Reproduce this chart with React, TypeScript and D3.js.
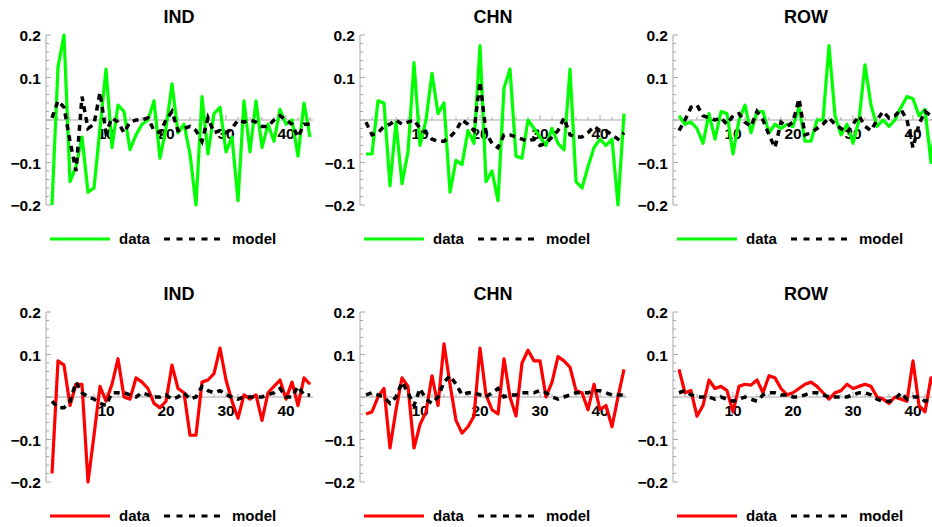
import React from 'react';
import * as d3 from 'd3';

const countries = ['IND', 'CHN', 'ROW'];

// top row (green data)
const topDataIND = [-0.2, 0.125, 0.2, -0.145, -0.11, -0.04, -0.17, -0.16, -0.02, 0.12, -0.065, 0.035, 0.02, -0.07, -0.035, -0.01, 0.0, 0.045, -0.09, -0.02, 0.085, -0.03, -0.01, -0.08, -0.2, 0.055, -0.08, 0.015, 0.03, -0.075, -0.04, -0.19, 0.045, -0.075, 0.045, -0.065, -0.01, -0.05, 0.025, -0.01, 0.0, -0.085, 0.04, -0.04];
const topModelIND = [0.005, 0.045, 0.03, -0.05, -0.12, 0.055, -0.02, -0.01, 0.065, -0.03, 0.005, -0.005, -0.03, -0.005, 0.0, 0.0, 0.005, -0.025, -0.03, 0.0, 0.02, -0.025, -0.02, -0.015, -0.025, -0.05, 0.005, -0.03, -0.025, -0.03, -0.02, 0.0, -0.005, 0.0, -0.005, -0.015, -0.015, 0.0, 0.01, 0.0, -0.01, -0.04, -0.01, -0.01];
const topDataCHN = [-0.08, -0.08, 0.045, 0.04, -0.155, -0.005, -0.15, -0.075, 0.135, -0.06, 0.0, 0.11, 0.015, 0.04, -0.17, -0.095, -0.105, -0.025, -0.055, 0.175, -0.145, -0.12, -0.19, 0.075, 0.12, -0.085, -0.09, 0.0, -0.02, -0.04, -0.06, -0.02, -0.055, -0.07, 0.12, -0.145, -0.16, -0.11, -0.065, -0.045, -0.06, -0.045, -0.2, 0.015];
const topModelCHN = [-0.005, -0.035, -0.03, -0.015, -0.01, 0.0, -0.01, -0.005, 0.0, -0.02, -0.03, -0.045, -0.05, -0.05, -0.04, -0.025, 0.0, -0.01, -0.025, 0.09, -0.03, -0.055, -0.065, -0.035, -0.035, -0.04, -0.045, -0.05, -0.045, -0.06, -0.055, -0.04, -0.025, 0.005, -0.035, -0.04, -0.04, -0.03, -0.015, -0.025, -0.025, -0.035, -0.045, -0.03];
const topDataROW = [0.01, -0.01, -0.005, -0.02, -0.055, 0.015, -0.045, 0.02, 0.015, -0.08, 0.0, 0.035, -0.03, 0.02, 0.02, -0.03, -0.01, -0.02, -0.01, -0.015, 0.03, -0.05, -0.05, 0.0, 0.0, 0.175, 0.01, -0.035, -0.01, -0.055, 0.0, 0.13, 0.035, -0.015, 0.0, -0.015, 0.0, 0.03, 0.055, 0.05, 0.01, 0.025, -0.1, 0.035];
const topModelROW = [-0.025, 0.0, 0.03, 0.035, 0.01, 0.005, 0.0, 0.005, -0.01, 0.01, 0.015, -0.005, -0.015, 0.02, 0.0, -0.035, -0.065, -0.005, -0.015, -0.005, 0.05, -0.035, -0.03, -0.02, -0.01, 0.005, -0.01, -0.02, -0.03, -0.01, 0.01, -0.015, -0.025, 0.0, 0.02, 0.005, 0.01, 0.025, 0.0, -0.065, -0.01, 0.02, 0.01, -0.01];

// bottom row (red data)
const botDataIND = [-0.18, 0.085, 0.075, -0.02, 0.03, 0.03, -0.2, -0.09, 0.025, -0.01, 0.03, 0.09, 0.0, -0.005, 0.045, 0.035, 0.02, -0.015, -0.025, -0.01, 0.075, 0.02, 0.01, -0.09, -0.09, 0.035, 0.04, 0.055, 0.115, 0.04, -0.01, -0.05, 0.005, -0.005, 0.005, -0.055, 0.01, 0.025, 0.04, -0.005, 0.035, -0.02, 0.045, 0.03];
const botModelIND = [-0.01, -0.025, -0.025, -0.01, 0.035, 0.01, 0.0, -0.005, -0.015, -0.02, 0.01, 0.01, 0.01, 0.005, 0.0, 0.01, 0.005, 0.0, 0.0, 0.005, -0.005, 0.0, 0.01, -0.005, 0.0, 0.025, 0.015, 0.01, 0.015, 0.005, 0.0, -0.005, 0.0, 0.0, 0.0, 0.0, 0.005, 0.01, 0.02, 0.0, 0.0, 0.025, 0.005, 0.005];
const botDataCHN = [-0.04, -0.035, 0.0, 0.02, -0.12, -0.03, 0.045, 0.025, -0.12, -0.065, -0.035, 0.05, -0.02, 0.125, 0.03, -0.055, -0.085, -0.07, -0.045, 0.115, 0.005, -0.03, -0.04, 0.09, 0.0, -0.045, 0.08, 0.11, 0.085, 0.085, 0.0, 0.035, 0.095, 0.085, 0.07, 0.015, 0.01, -0.03, 0.03, -0.03, -0.02, -0.07, 0.0, 0.065];
const botModelCHN = [0.005, 0.01, 0.005, 0.0, -0.015, 0.0, 0.035, 0.01, -0.02, 0.02, -0.005, -0.015, 0.0, 0.035, 0.05, 0.03, 0.005, 0.01, 0.01, 0.005, 0.0, 0.01, 0.02, 0.0, 0.005, 0.005, 0.01, 0.01, 0.01, 0.015, 0.01, 0.0, -0.005, 0.0, 0.005, 0.01, 0.01, 0.01, 0.015, 0.015, 0.01, 0.005, 0.005, 0.005];
const botDataROW = [0.065, 0.01, 0.015, -0.045, -0.02, 0.04, 0.02, 0.025, 0.015, -0.035, 0.025, 0.03, 0.028, 0.04, 0.01, 0.05, 0.045, 0.02, 0.005, 0.01, 0.02, 0.03, 0.035, 0.025, 0.01, -0.005, 0.01, 0.015, 0.03, 0.02, 0.025, 0.03, 0.025, 0.0, -0.005, -0.015, 0.0, -0.005, -0.01, 0.085, -0.02, -0.035, 0.045, 0.005];
const botModelROW = [0.01, 0.015, 0.005, 0.0, 0.0, 0.0, -0.005, 0.0, -0.005, -0.01, -0.005, 0.0, -0.005, -0.01, 0.005, 0.01, 0.01, 0.005, 0.005, 0.0, 0.0, 0.005, 0.01, 0.01, 0.005, 0.0, 0.0, 0.0, 0.0, 0.005, 0.01, 0.01, 0.005, -0.005, -0.01, -0.01, -0.005, 0.01, -0.005, 0.0, 0.0, -0.01, -0.005, -0.005];

const yTicks = [-0.2, -0.1, 0.1, 0.2];
const xTicks = [10, 20, 30, 40];
const legendLabels = ['data', 'model'];

const rows = [
  { color: '#00ff00', top: 35, data: [topDataIND, topDataCHN, topDataROW], model: [topModelIND, topModelCHN, topModelROW] },
  { color: '#ff0000', top: 312, data: [botDataIND, botDataCHN, botDataROW], model: [botModelIND, botModelCHN, botModelROW] },
];
const colX = [46, 360, 673];

const FONT = 'Liberation Sans, Arial, sans-serif';
const AXIS = '#a6a6a6';

const Panel = ({ x0, top, title, data, model, color }) => {
  const x = d3.scaleLinear().domain([0, 44.5]).range([x0, x0 + 267]);
  const y = d3.scaleLinear().domain([-0.2, 0.2]).range([top + 170, top]);
  const line = d3
    .line<number>()
    .x((d, i) => x(i + 1))
    .y(d => y(d));
  const minorY = d3.range(-0.2, 0.2001, 0.02);
  const minorX = d3.range(2, 45, 2);
  return (
    <g>
      <text x={x0 + 133} y={top - 12} textAnchor="middle" fontFamily={FONT} fontWeight="bold" fontSize={18}>
        {title}
      </text>
      <line x1={x0} x2={x0} y1={y(-0.2)} y2={y(0.2)} stroke={AXIS} strokeWidth={1} />
      <line x1={x0} x2={x(44.5)} y1={y(0)} y2={y(0)} stroke={AXIS} strokeWidth={1} />
      {minorY.map(t => (
        <line key={t} x1={x0} x2={x0 + (Math.abs(Math.round(t * 100)) % 10 === 0 ? 5 : 3)} y1={y(t)} y2={y(t)} stroke={AXIS} />
      ))}
      {minorX.map(t => (
        <line key={t} x1={x(t)} x2={x(t)} y1={y(0)} y2={y(0) - (t % 10 === 0 ? 5 : 3)} stroke={AXIS} />
      ))}
      {yTicks.map(t => (
        <text key={t} x={x0 - 5} y={y(t) + 6} textAnchor="end" fontFamily={FONT} fontWeight="bold" fontSize={15.5}>
          {t < 0 ? '\u2212' + Math.abs(t) : t}
        </text>
      ))}
      {xTicks.map(t => (
        <text key={t} x={x(t)} y={y(0) + 19} textAnchor="middle" fontFamily={FONT} fontWeight="bold" fontSize={15.5}>
          {t}
        </text>
      ))}
      <path d={line(data) ?? ''} fill="none" stroke={color} strokeWidth={3.2} strokeLinejoin="round" />
      <path d={line(model) ?? ''} fill="none" stroke="#000" strokeWidth={3.5} strokeDasharray="6,5" />
      <g transform={`translate(${x0},${top + 204})`}>
        <line x1={4} x2={64} y1={0} y2={0} stroke={color} strokeWidth={3} />
        <text x={73} y={5} fontFamily={FONT} fontWeight="bold" fontSize={15}>
          {legendLabels[0]}
        </text>
        <line x1={118} x2={174} y1={0} y2={0} stroke="#000" strokeWidth={3} strokeDasharray="6,6.5" />
        <text x={186} y={5} fontFamily={FONT} fontWeight="bold" fontSize={15}>
          {legendLabels[1]}
        </text>
      </g>
    </g>
  );
};

export default function App() {
  return (
    <svg width={932} height={527} style={{ position: 'absolute', left: 0, top: 0, background: '#fff' }}>
      {rows.map((r, ri) =>
        countries.map((c, ci) => (
          <Panel key={`${ri}-${ci}`} x0={colX[ci]} top={r.top} title={c} data={r.data[ci]} model={r.model[ci]} color={r.color} />
        ))
      )}
    </svg>
  );
}
